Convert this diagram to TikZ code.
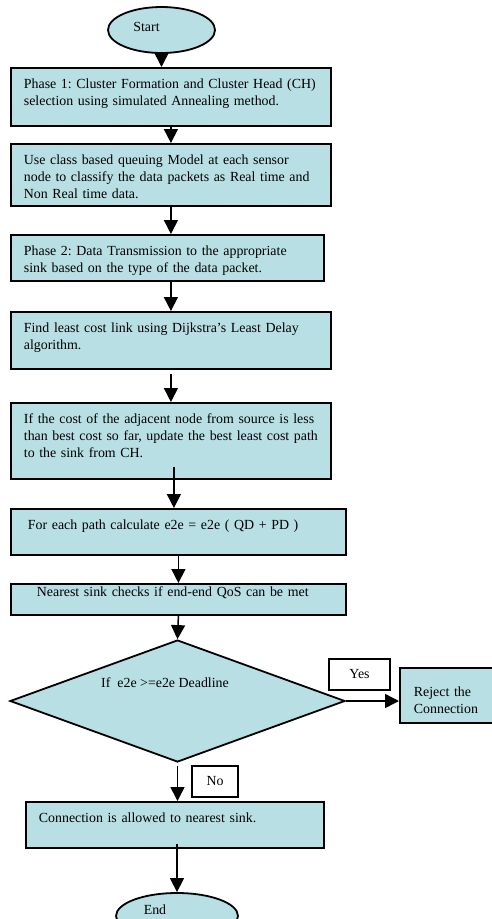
\documentclass[tikz,border=0pt]{standalone}
\usepackage{fontspec}
\setmainfont{Liberation Serif}
\usepackage{xcolor}
\usepackage{tikz}
\usetikzlibrary{
	arrows.meta,
	calc,
	shapes.geometric,
	positioning
}
\definecolor{BoxBlue}{RGB}{184,223,227}
\frenchspacing

\tikzset{
	procbox/.style={rectangle, draw, line width=1.8pt, fill=BoxBlue, anchor=north west,
		align=left, inner xsep=13pt, inner ysep=8pt, text height=13pt},
	termbox/.style={ellipse, draw, line width=1.8pt, fill=BoxBlue, inner sep=0pt},
	decision/.style={diamond, draw, line width=1.8pt, fill=BoxBlue, aspect=2.75, inner sep=0pt},
	tagbox/.style={rectangle, draw, line width=1.4pt, fill=white, inner sep=0pt},
	flow/.style={line width=1.5pt, -{Triangle[length=14pt,width=14pt]}}
}

\begin{document}
\begin{tikzpicture}[x=1pt, y=-1pt, font=\fontsize{13.9}{16.8}\selectfont]
		\useasboundingbox (0,0) rectangle (492,919);
		\clip (0,0) rectangle (492,919);
		% 开始
		\node[termbox, minimum width=107pt, minimum height=46pt, text depth=6pt] (start) at (161.5,30) {Start\hspace*{30pt}};
		% 各个步骤
		\node[procbox, text width=294pt, text depth=29pt] (phase1) at (10,67)
			{Phase 1: Cluster Formation and Cluster Head (CH)\\selection using simulated Annealing method.};
		\node[procbox, text width=294pt, text depth=33pt] (classify) at (10,143)
			{Use class based queuing Model at each sensor\\node to classify the data packets as Real time and\\Non Real time data.};
		\node[procbox, text width=287pt, text depth=17pt] (phase2) at (10,234)
			{Phase 2: Data Transmission to the appropriate\\sink based on the type of the data packet.};
		\node[procbox, text width=294pt, text depth=28pt] (dijkstra) at (10,311)
			{Find least cost link using Dijkstra's Least Delay\\algorithm.};
		\node[procbox, text width=294pt, text depth=47pt] (update) at (10,402)
			{If the cost of the adjacent node from source is less\\than best cost so far, update the best least cost path\\to the sink from CH.};
		\node[procbox, text width=309pt, text depth=17pt] (calc) at (10,508)
			{\hspace*{4pt}For each path calculate e2e = e2e ( QD + PD )};
		\node[procbox, text width=309pt, inner ysep=4pt, text height=9pt, text depth=14pt] (check) at (10,583)
			{\hspace*{13pt}Nearest sink checks if end-end QoS can be met};
		% 判断
		\node[decision, minimum width=335pt, minimum height=122pt, text height=10pt, text depth=37pt] (decide) at (177.5,701)
			{If\ \ e2e >=e2e Deadline\hspace*{25pt}};
		\node[procbox, text width=65pt, inner xsep=14pt, text height=21pt, text depth=18pt] (reject) at (399,667)
			{Reject the\\Connection};
		\node[tagbox, minimum width=61pt, minimum height=31pt] (yes) at (359.5,674.5) {Yes};
		\node[tagbox, minimum width=46pt, minimum height=31pt] (no) at (215,781.5) {No};
		\node[procbox, text width=272pt, text depth=17pt] (allow) at (25,801)
			{Connection is allowed to nearest sink.};
		% 结束
		\node[termbox, minimum width=122pt, minimum height=46pt, text depth=12pt] (stop) at (177,916) {End\hspace*{44pt}};
		% 箭头
		\draw[flow] (start.south) -- (start.south |- phase1.north);
		\draw[flow] (phase1.south) -- (classify.north);
		\draw[flow] (classify.south) -- (classify.south |- phase2.north);
		\draw[flow] (dijkstra.north |- phase2.south) -- (dijkstra.north);
		\draw[flow] ([yshift=-4pt]dijkstra.south) -- (update.north);
		\draw[flow] ([xshift=3pt,yshift=13pt]update.south) -- ([xshift=3pt]update.south |- calc.north);
		\draw[flow] (calc.south) -- (check.north);
		\draw[flow] (check.south) -- (decide.north);
		\draw[flow] (decide.east) -- (decide.east -| reject.west);
		\draw[flow] ([yshift=-3pt]decide.south) -- (decide.south |- allow.north);
		\draw[flow] ($(stop.north |- allow.south)+(0,-5)$) -- (stop.north);
	\end{tikzpicture}
\end{document}
